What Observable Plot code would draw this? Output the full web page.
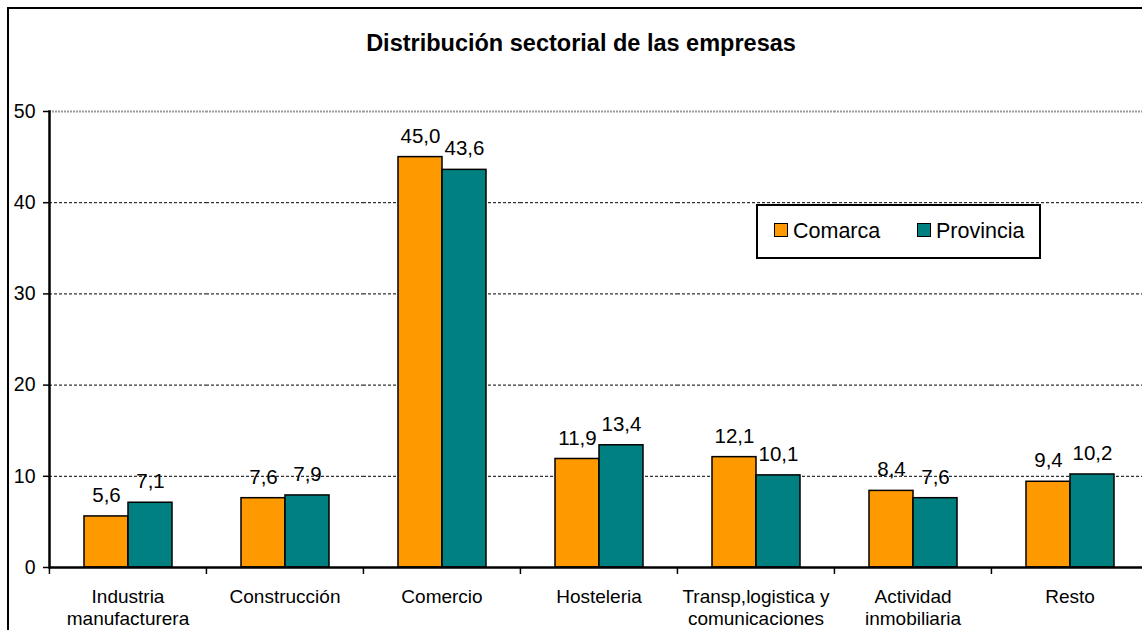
<!DOCTYPE html>
<html>
<head>
<meta charset="utf-8">
<script src="https://cdn.jsdelivr.net/npm/d3@7"></script>
<script src="https://cdn.jsdelivr.net/npm/@observablehq/plot@0.6"></script>
<style>
  html, body { margin: 0; padding: 0; background: #fff; }
  #wrap { position: relative; width: 1142px; height: 630px; overflow: hidden; font-family: "Liberation Sans", Arial, sans-serif; }
  #chart { position: absolute; left: 0; top: 0; width: 1160px; }
  #chart svg { max-width: none !important; }
  #frame { position: absolute; left: 7px; top: 7px; width: 1200px; height: 700px; border-left: 2.5px solid #000; border-top: 2.5px solid #000; pointer-events: none; }
  #title { position: absolute; left: 0; width: 1162px; top: 30px; text-align: center; font-weight: bold; font-size: 23.5px; color: #000; }
  #legend { position: absolute; left: 756px; top: 204px; width: 281px; height: 51px; border: 2px solid #000; background: #fff; font-size: 21.5px; color: #000; }
  .item { position: absolute; top: 13px; display: flex; align-items: center; }
  .sw { width: 12px; height: 12px; border: 1.5px solid #000; margin-right: 5px; margin-top: -4px; }
</style>
</head>
<body>
<div id="wrap">
  <div id="chart"></div>
  <div id="title"></div>
  <div id="legend"></div>
  <div id="frame"></div>
</div>
<script>
const title = "Distribución sectorial de las empresas";
const categories = ["Industria manufacturera", "Construcción", "Comercio", "Hosteleria", "Transp,logistica y comunicaciones", "Actividad inmobiliaria", "Resto"];
const tickLabels = ["Industria\nmanufacturera", "Construcción", "Comercio", "Hosteleria", "Transp,logistica y\ncomunicaciones", "Actividad\ninmobiliaria", "Resto"];
const seriesNames = ["Comarca", "Provincia"];
const comarca = [5.6, 7.6, 45.0, 11.9, 12.1, 8.4, 9.4];
const provincia = [7.1, 7.9, 43.6, 13.4, 10.1, 7.6, 10.2];
const colors = ["#FF9900", "#008080"];
const yTicks = [0, 10, 20, 30, 40, 50];

const data = [];
categories.forEach((c, i) => {
  data.push({category: c, series: seriesNames[0], value: comarca[i]});
  data.push({category: c, series: seriesNames[1], value: provincia[i]});
});
const fmt = v => v.toFixed(1).replace(".", ",");

const width = 1148, marginLeft = 48, marginRight = 0;
const step = (width - marginLeft - marginRight) / categories.length;

const chart = Plot.plot({
  width,
  height: 630,
  marginLeft,
  marginRight,
  marginTop: 111,
  marginBottom: 63,
  style: {fontFamily: "'Liberation Sans', Arial, sans-serif", fontSize: "19px", color: "#000", background: "transparent", overflow: "visible", maxWidth: "none"},
  fx: {domain: categories, paddingInner: 0, paddingOuter: 0, label: null},
  x: {domain: seriesNames, paddingInner: 0, paddingOuter: 0.77, axis: null},
  y: {domain: [0, 50], ticks: yTicks, label: null},
  color: {domain: seriesNames, range: colors},
  marks: [
    Plot.gridY(yTicks.filter(t => t > 0 && t < 50), {stroke: "#000", strokeOpacity: 1, strokeWidth: 1, strokeDasharray: "3,2"}),
    Plot.gridY([50], {stroke: "#999", strokeOpacity: 1, strokeWidth: 2, strokeDasharray: "2,1"}),
    Plot.barY(data, {fx: "category", x: "series", y: "value", fill: "series", stroke: "#000", strokeWidth: 1.5}),
    Plot.text(data, {fx: "category", x: "series", y: "value", text: d => fmt(d.value), dy: -21, fontSize: 20.5, fill: "#000"}),
    Plot.ruleY([0], {stroke: "#000", strokeWidth: 2.5}),
    Plot.frame({anchor: "left", facet: "super", stroke: "#000", strokeWidth: 2.5}),
    Plot.axisY({ticks: yTicks, tickSize: 6, tickPadding: 8, fontSize: 19.5, tickFormat: d => String(d), stroke: "#000", strokeWidth: 1.5}),
    Plot.axisFx({anchor: "bottom", tickSize: 0, tickPadding: 20, fontSize: 19, lineHeight: 1.15, tickFormat: d => tickLabels[categories.indexOf(d)], label: null}),
    Plot.axisFx({anchor: "bottom", tickSize: 7, tickFormat: () => "", dx: -step / 2, stroke: "#000", strokeWidth: 1.5, label: null})
  ]
});
document.getElementById("chart").appendChild(chart);
document.getElementById("title").textContent = title;

const legend = document.getElementById("legend");
const lefts = [16, 159];
seriesNames.forEach((s, i) => {
  const item = document.createElement("div");
  item.className = "item";
  item.style.left = lefts[i] + "px";
  const sw = document.createElement("div");
  sw.className = "sw";
  sw.style.background = colors[i];
  const label = document.createElement("span");
  label.textContent = s;
  item.appendChild(sw);
  item.appendChild(label);
  legend.appendChild(item);
});
</script>
</body>
</html>
